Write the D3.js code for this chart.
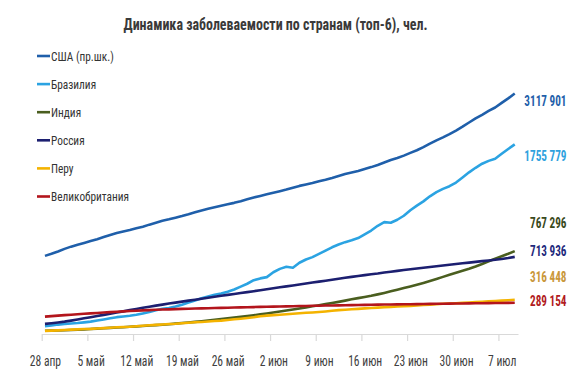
<!DOCTYPE html>
<html>
<head>
<meta charset="utf-8">
<script src="https://cdn.jsdelivr.net/npm/d3@7"></script>
<style>
  html, body { margin: 0; padding: 0; background: #fff; }
  svg { display: block; }
  text { font-family: "Liberation Sans Narrow", "Arial Narrow", "Roboto Condensed", "Liberation Sans", Arial, sans-serif; }
</style>
</head>
<body>
<div id="chart"></div>
<script>
// Daily cumulative cases, 28 Apr – 9 Jul (one row per week, starting Tuesday)
const firstDay = Date.UTC(2020, 3, 28);
const dayAfterLast = Date.UTC(2020, 6, 10);

const usa = [
    1012583, 1039909, 1069424, 1103461, 1132539, 1158040, 1180375,
    1204351, 1229331, 1257023, 1283929, 1309550, 1329260, 1347881,
    1369376, 1390406, 1417774, 1442824, 1467820, 1486757, 1508308,
    1528568, 1551853, 1577147, 1600937, 1622670, 1643246, 1662302,
    1680913, 1699933, 1721750, 1746019, 1770165, 1790191, 1811277,
    1831821, 1851520, 1872660, 1897380, 1920061, 1938823, 1956421,
    1979850, 2000702, 2023590, 2048986, 2074526, 2094069, 2114026,
    2137731, 2163290, 2191099, 2222576, 2255119, 2280969, 2312302,
    2347491, 2381369, 2422310, 2467554, 2510259, 2549069, 2590582,
    2636538, 2687588, 2742049, 2795361, 2841906, 2891124, 2936077,
    2996098, 3054699, 3117901
];
const brazil = [
    73235, 79685, 87187, 92202, 97100, 101147, 107780,
    114715, 125218, 135106, 145328, 155939, 162699, 169594,
    178214, 190137, 203165, 220291, 233142, 241080, 255368,
    271628, 291579, 310087, 330890, 347398, 363211, 374898,
    391222, 411821, 438238, 465166, 498440, 514849, 526447,
    572000, 603000, 622000, 613000, 660000, 690000, 712000,
    742000, 772416, 802828, 828810, 850514, 867624, 888271,
    923189, 958000, 1002000, 1036000, 1030000, 1058000, 1095000,
    1145906, 1188631, 1228114, 1274974, 1313667, 1344143, 1368195,
    1402041, 1448753, 1496858, 1539081, 1577004, 1603055, 1623284,
    1668589, 1713160, 1755779
];
const india = [
    29435, 31332, 33050, 35043, 37336, 39980, 42533,
    46433, 49391, 52952, 56342, 59662, 62939, 67152,
    70756, 74281, 78003, 81970, 85940, 90927, 96169,
    101139, 106750, 112359, 118447, 125101, 131868, 138845,
    145380, 151767, 158333, 165799, 173763, 182143, 190535,
    198706, 207615, 216919, 226770, 236657, 246628, 256611,
    266598, 276583, 286579, 297535, 308993, 320922, 332424,
    343091, 354065, 366946, 380532, 395048, 410461, 425282,
    440215, 456183, 473105, 490401, 508953, 528859, 548318,
    566840, 585493, 604641, 625544, 648315, 673165, 697413,
    719665, 742417, 767296
];
const russia = [
    93558, 99399, 106498, 114431, 124054, 134687, 145268,
    155370, 165929, 177160, 187859, 198676, 209688, 221344,
    232243, 242271, 252245, 262843, 272043, 281752, 290678,
    299941, 308705, 317554, 326448, 335882, 344481, 353427,
    362342, 370680, 379051, 387623, 396575, 405843, 414878,
    423741, 432277, 441108, 449834, 458689, 467673, 476658,
    485253, 493657, 502436, 511423, 520129, 528964, 537210,
    545458, 553301, 560321, 569063, 576952, 584680, 592280,
    599705, 606881, 613994, 620794, 627646, 634437, 641156,
    647849, 654405, 661165, 667883, 674515, 681251, 687862,
    694230, 703000, 713936
];
const peru = [
    28699, 31190, 33931, 36976, 40459, 42534, 45928,
    47372, 51189, 54817, 58526, 61847, 65015, 67307,
    72059, 76306, 80604, 84495, 88541, 92273, 94933,
    99483, 104020, 108769, 111698, 115754, 119959, 123979,
    129751, 135905, 141779, 148285, 155671, 164476, 170039,
    174884, 178914, 183198, 187400, 191758, 196515, 199696,
    203736, 208823, 214788, 220749, 225132, 229736, 232992,
    237156, 240908, 244388, 247925, 251338, 254936, 257447,
    260810, 264689, 268602, 272364, 275989, 279419, 282365,
    285213, 288477, 292004, 295599, 299080, 302718, 305703,
    309278, 312911, 316448
];
const uk = [
    161000, 165500, 170000, 174400, 178700, 182800, 186800,
    190800, 194800, 198700, 202500, 206100, 209500, 212700,
    215800, 218700, 221400, 223900, 226200, 228300, 230300,
    232200, 234000, 235700, 237300, 238900, 240400, 241900,
    243400, 244900, 246400, 247900, 249300, 250700, 252100,
    253500, 254800, 256100, 257400, 258700, 259900, 261100,
    262200, 263300, 264400, 265500, 266600, 267600, 268600,
    269600, 270600, 271600, 272500, 273400, 274300, 275200,
    276100, 277000, 277900, 278700, 279500, 280300, 281100,
    281900, 282700, 283500, 284300, 285100, 285900, 286700,
    287500, 288300, 289154
];

const tickLabels = ["28 апр", "5 май", "12 май", "19 май", "26 май", "2 июн",
    "9 июн", "16 июн", "23 июн", "30 июн", "7 июл"];

const series = [
    { name: "США (пр.шк.)", values: usa, axis: "right" },
    { name: "Бразилия", values: brazil, axis: "left" },
    { name: "Индия", values: india, axis: "left" },
    { name: "Россия", values: russia, axis: "left" },
    { name: "Перу", values: peru, axis: "left" },
    { name: "Великобритания", values: uk, axis: "left" }
];

// styling, kept apart from the values
const lineColors = ["#1F5FAA", "#2BA3E2", "#4A5E1F", "#1C1F70", "#F4B300", "#B3151C"];
const labelColors = ["#1F5FAA", "#2FA2DE", "#3A4A1C", "#1F2A7C", "#C9973A", "#B11A21"];
const labelBaselines = [106, 161, 228, 256, 282, 306];

const width = 585;
const height = 379;
const plot = { left: 41.7, right: 518, top: 64, bottom: 334 };

const dates = d3.utcDay.range(firstDay, dayAfterLast);
const mid = d => d3.utcHour.offset(d, 12);

const x = d3.scaleUtc()
    .domain([firstDay, dayAfterLast])
    .range([plot.left, plot.right]);
const yLeft = d3.scaleLinear().domain([0, 2500000]).range([plot.bottom, plot.top]);
const yRight = d3.scaleLinear().domain([0, 3500000]).range([plot.bottom, plot.top]);

const fmt = d3.formatLocale({ decimal: ",", thousands: " ", grouping: [3, 12], currency: ["", ""] }).format(",d");

const svg = d3.select("#chart").append("svg")
    .attr("width", width)
    .attr("height", height);

// squeeze text horizontally so the narrow look of the original survives any font
const squeeze = (sel, k) => sel.each(function () {
    const w = this.getComputedTextLength();
    d3.select(this).attr("textLength", w * k).attr("lengthAdjust", "spacingAndGlyphs");
});

const title = svg.append("text")
    .attr("x", 275.5)
    .attr("y", 30)
    .attr("text-anchor", "middle")
    .attr("font-size", 16)
    .attr("font-weight", "bold")
    .attr("fill", "#3A3A3A")
    .text("Динамика заболеваемости по странам (топ-6), чел.");
squeeze(title, 304 / title.node().getComputedTextLength());

// x axis
const tickDates = dates.filter((d, i) => i % 7 === 0);
const halfDay = (x(dates[1]) - x(dates[0])) / 2;

const axis = svg.append("g")
    .attr("transform", `translate(0,${plot.bottom})`)
    .call(d3.axisBottom(x)
        .tickValues(tickDates)
        .tickSize(7)
        .tickSizeOuter(0)
        .tickFormat((d, i) => tickLabels[i]));
axis.select(".domain").attr("stroke", "#D9D9D9").attr("stroke-width", 1.2);
axis.selectAll(".tick line").attr("stroke", "#D9D9D9").attr("stroke-width", 1.2);
const tickText = axis.selectAll(".tick text")
    .attr("x", halfDay)
    .attr("y", 22)
    .attr("font-size", 14)
    .attr("font-family", null)
    .attr("fill", "#404040");
const refTick = tickText.filter((d, i) => i === 2).node();
squeeze(tickText, 33 / refTick.getComputedTextLength());

// lines
const lineFor = s => d3.line()
    .x((v, i) => x(mid(dates[i])))
    .y(v => (s.axis === "right" ? yRight : yLeft)(v));

svg.append("g")
    .selectAll("path")
    .data(series)
    .join("path")
    .attr("fill", "none")
    .attr("stroke", (d, i) => lineColors[i])
    .attr("stroke-width", 2.6)
    .attr("stroke-linejoin", "round")
    .attr("d", s => lineFor(s)(s.values));

// end value labels
const endLabels = svg.append("g")
    .selectAll("text")
    .data(series)
    .join("text")
    .attr("x", 566.5)
    .attr("y", (d, i) => labelBaselines[i])
    .attr("text-anchor", "end")
    .attr("font-size", 15.5)
    .attr("font-weight", "bold")
    .attr("fill", (d, i) => labelColors[i])
    .text(d => fmt(d.values[d.values.length - 1]));
squeeze(endLabels, 36.5 / endLabels.filter((d, i) => i === 4).node().getComputedTextLength());

// legend
const legend = svg.append("g")
    .selectAll("g")
    .data(series)
    .join("g")
    .attr("transform", (d, i) => `translate(0,${56 + i * 28.1})`);

legend.append("line")
    .attr("x1", 37)
    .attr("x2", 50)
    .attr("stroke", (d, i) => lineColors[i])
    .attr("stroke-width", 2.6);

const legendText = legend.append("text")
    .attr("x", 51)
    .attr("dy", "0.36em")
    .attr("font-size", 12.5)
    .attr("fill", "#333")
    .text(d => d.name);
squeeze(legendText, 78 / legendText.filter((d, i) => i === 5).node().getComputedTextLength());
</script>
</body>
</html>
